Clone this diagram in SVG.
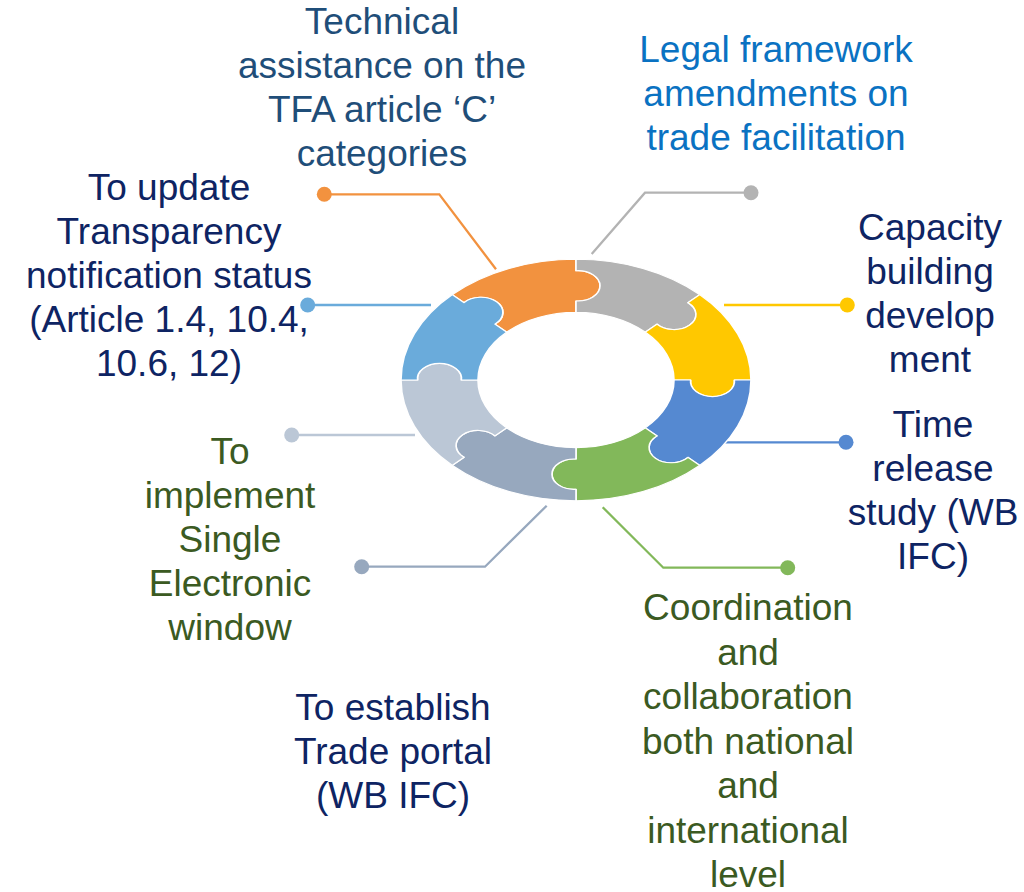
<svg xmlns="http://www.w3.org/2000/svg" width="1024" height="892" viewBox="0 0 1024 892">
<style>
text{font-family:"Liberation Sans",Arial,sans-serif;font-size:37px;text-anchor:middle}
.piece{stroke:#fff;stroke-width:1.6;vector-effect:non-scaling-stroke;stroke-linejoin:round}
.con{fill:none;stroke-width:2.3}
.t-navy{fill:#0E2463}
.t-slate{fill:#1F4E79}
.t-blue{fill:#0A72C2}
.t-green{fill:#3B5A22}
</style>
<defs>
<path id="pc" d="M -123.74 -123.74 A 175 175 0 0 1 0 -175 L 0 -158.41 A 22 22 0 1 1 0 -114.59 L 0 -98 A 98 98 0 0 0 -69.30 -69.30 L -81.03 -81.03 A 22 22 0 1 0 -112.01 -112.01 Z"/>
</defs>
<rect width="1024" height="892" fill="#fff"/>
<g id="connectors">
<polyline class="con" stroke="#F2923F" points="324.3,194.3 439.3,194.3 496,269.3"/>
<circle cx="324.3" cy="194.3" r="7.5" fill="#F2923F"/>
<polyline class="con" stroke="#B3B3B3" points="751,192.7 645,192.7 591.7,254"/>
<circle cx="751" cy="192.7" r="7.5" fill="#B3B3B3"/>
<polyline class="con" stroke="#FFC800" points="724,305 847.3,305"/>
<circle cx="847.3" cy="305" r="7.5" fill="#FFC800"/>
<polyline class="con" stroke="#5589D1" points="722,442.3 846,442.3"/>
<circle cx="846" cy="442.3" r="7.5" fill="#5589D1"/>
<polyline class="con" stroke="#82B85A" points="602.7,507.3 663.3,567.7 787.7,567.7"/>
<circle cx="787.7" cy="567.7" r="7.5" fill="#82B85A"/>
<polyline class="con" stroke="#97A8BE" points="546.7,505.7 485,566.7 361.7,566.7"/>
<circle cx="361.7" cy="566.7" r="7.5" fill="#97A8BE"/>
<polyline class="con" stroke="#BBC7D6" points="291.7,435 415,435"/>
<circle cx="291.7" cy="435" r="7.5" fill="#BBC7D6"/>
<polyline class="con" stroke="#6AABDB" points="307.7,305 431,305"/>
<circle cx="307.7" cy="305" r="7.5" fill="#6AABDB"/>
</g>
<g transform="translate(576 380) scale(1 0.69)">
<g id="node-technical"><use href="#pc" class="piece" fill="#F2923F"/></g>
<g id="node-legal"><use href="#pc" class="piece" fill="#B3B3B3" transform="rotate(45)"/></g>
<g id="node-capacity"><use href="#pc" class="piece" fill="#FFC800" transform="rotate(90)"/></g>
<g id="node-time"><use href="#pc" class="piece" fill="#5589D1" transform="rotate(135)"/></g>
<g id="node-coordination"><use href="#pc" class="piece" fill="#82B85A" transform="rotate(180)"/></g>
<g id="node-portal"><use href="#pc" class="piece" fill="#97A8BE" transform="rotate(225)"/></g>
<g id="node-single-window"><use href="#pc" class="piece" fill="#BBC7D6" transform="rotate(270)"/></g>
<g id="node-transparency"><use href="#pc" class="piece" fill="#6AABDB" transform="rotate(315)"/></g>
</g>
<g id="label-technical" class="t-slate">
<text x="382" y="34">Technical</text>
<text x="382" y="77.8">assistance on the</text>
<text x="382" y="121.7">TFA article ‘C’</text>
<text x="382" y="165.7">categories</text>
</g>
<g id="label-legal" class="t-blue">
<text x="776" y="62">Legal framework</text>
<text x="776" y="106">amendments on</text>
<text x="776" y="150">trade facilitation</text>
</g>
<g id="label-capacity" class="t-navy">
<text x="930" y="240">Capacity</text>
<text x="930" y="284">building</text>
<text x="930" y="328">develop</text>
<text x="930" y="372">ment</text>
</g>
<g id="label-time" class="t-navy">
<text x="933" y="437">Time</text>
<text x="933" y="481">release</text>
<text x="933" y="525">study (WB</text>
<text x="933" y="569">IFC)</text>
</g>
<g id="label-coordination" class="t-green">
<text x="748" y="620">Coordination</text>
<text x="748" y="664.5">and</text>
<text x="748" y="709">collaboration</text>
<text x="748" y="753.5">both national</text>
<text x="748" y="798">and</text>
<text x="748" y="842.5">international</text>
<text x="748" y="887">level</text>
</g>
<g id="label-portal" class="t-navy">
<text x="393" y="720">To establish</text>
<text x="393" y="764">Trade portal</text>
<text x="393" y="808">(WB IFC)</text>
</g>
<g id="label-single-window" class="t-green">
<text x="230" y="464">To</text>
<text x="230" y="508">implement</text>
<text x="230" y="552">Single</text>
<text x="230" y="596">Electronic</text>
<text x="230" y="640">window</text>
</g>
<g id="label-transparency" class="t-navy">
<text x="169" y="200">To update</text>
<text x="169" y="244">Transparency</text>
<text x="169" y="288">notification status</text>
<text x="169" y="332">(Article 1.4, 10.4,</text>
<text x="169" y="376">10.6, 12)</text>
</g>
</svg>
